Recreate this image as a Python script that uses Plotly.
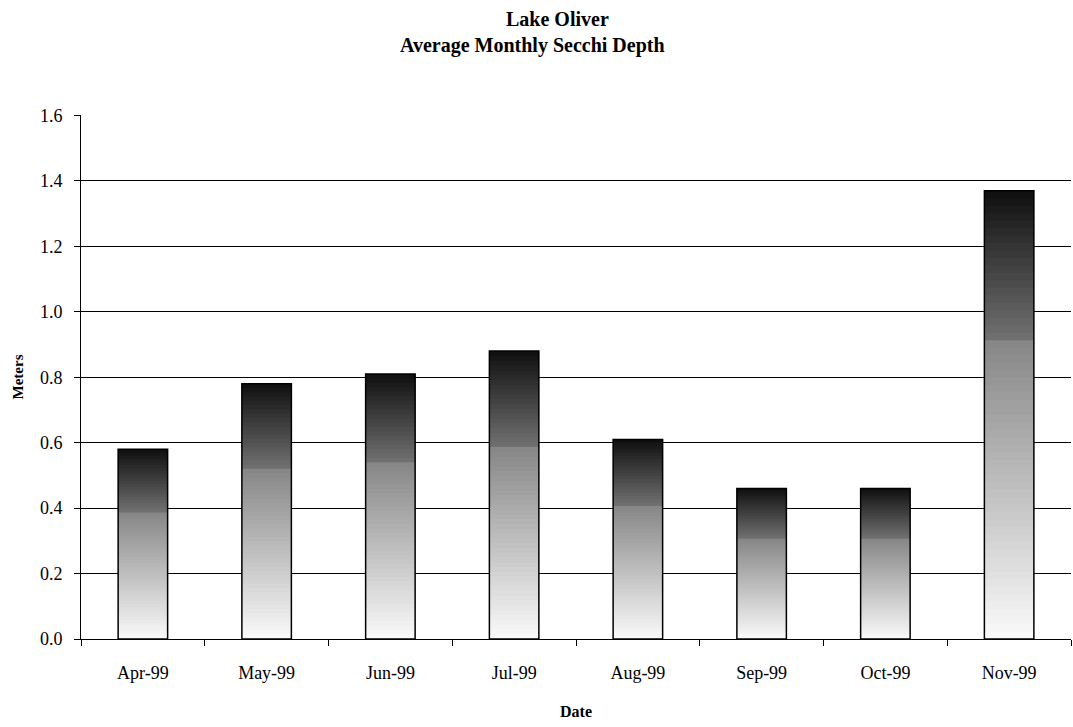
import plotly.graph_objects as go

# Average monthly Secchi depth, Lake Oliver, 1999
months = ["Apr-99", "May-99", "Jun-99", "Jul-99", "Aug-99", "Sep-99", "Oct-99", "Nov-99"]
depth_m = [0.58, 0.78, 0.81, 0.88, 0.61, 0.46, 0.46, 1.37]

y_ticks = [0.0, 0.2, 0.4, 0.6, 0.8, 1.0, 1.2, 1.4, 1.6]

FONT = "Liberation Serif, Times New Roman, serif"
N_SEG = 60
BAR_W = 0.4


def shade(f):
    """Grey level for fractional height f (0 = bar base, 1 = bar top)."""
    if f < 0.66:
        g = 250 - (250 - 135) * (f / 0.66)
    else:
        g = 115 - (115 - 15) * ((f - 0.66) / 0.34)
    g = int(round(g))
    return f"rgb({g},{g},{g})"


fig = go.Figure()

# Vertical gradient fill: each bar is built from overlapping slices of its own height
for i in range(N_SEG):
    f = (i + 0.5) / N_SEG
    span = min(3, N_SEG - i)
    fig.add_trace(go.Bar(
        x=months,
        y=[v * span / N_SEG for v in depth_m],
        base=[v * i / N_SEG for v in depth_m],
        width=BAR_W,
        marker=dict(color=shade(f), line=dict(width=0)),
        hoverinfo="skip",
        showlegend=False,
    ))

# Bar outlines
fig.add_trace(go.Bar(
    x=months,
    y=depth_m,
    width=BAR_W,
    marker=dict(color="rgba(0,0,0,0)", line=dict(color="black", width=1.5)),
    showlegend=False,
    hovertemplate="%{x}: %{y:.2f} m<extra></extra>",
))

# Two-line bold title
fig.add_annotation(text="<b>Lake Oliver</b>", xref="paper", yref="paper",
                   x=0.4818, y=1.183, xanchor="center", yanchor="middle",
                   showarrow=False, font=dict(family=FONT, size=20, color="black"))
fig.add_annotation(text="<b>Average Monthly Secchi Depth</b>", xref="paper", yref="paper",
                   x=0.4556, y=1.132, xanchor="center", yanchor="middle",
                   showarrow=False, font=dict(family=FONT, size=20, color="black"))

fig.update_layout(
    barmode="overlay",
    width=1073,
    height=727,
    paper_bgcolor="white",
    plot_bgcolor="white",
    margin=dict(l=81, r=2, t=115, b=88),
    font=dict(family=FONT, color="black", size=18),
    xaxis=dict(
        type="category",
        tickson="boundaries",
        ticks="outside",
        ticklen=6,
        tickcolor="black",
        showline=True,
        linecolor="black",
        linewidth=1,
        showgrid=False,
        ticklabelstandoff=17,
        tickfont=dict(family=FONT, size=18, color="black"),
        title=dict(text="<b>Date</b>", font=dict(family=FONT, size=16), standoff=24),
    ),
    yaxis=dict(
        range=[0, 1.6015],
        tickvals=y_ticks,
        ticktext=[f"{v:.1f}" for v in y_ticks],
        ticks="outside",
        ticklen=6,
        tickcolor="black",
        showline=True,
        linecolor="black",
        linewidth=1,
        showgrid=True,
        gridcolor="black",
        gridwidth=1,
        zeroline=False,
        ticklabelstandoff=8,
        tickfont=dict(family=FONT, size=18, color="black"),
        title=dict(text="<b>Meters</b>", font=dict(family=FONT, size=15), standoff=12),
    ),
)

fig.write_html("out.html")
